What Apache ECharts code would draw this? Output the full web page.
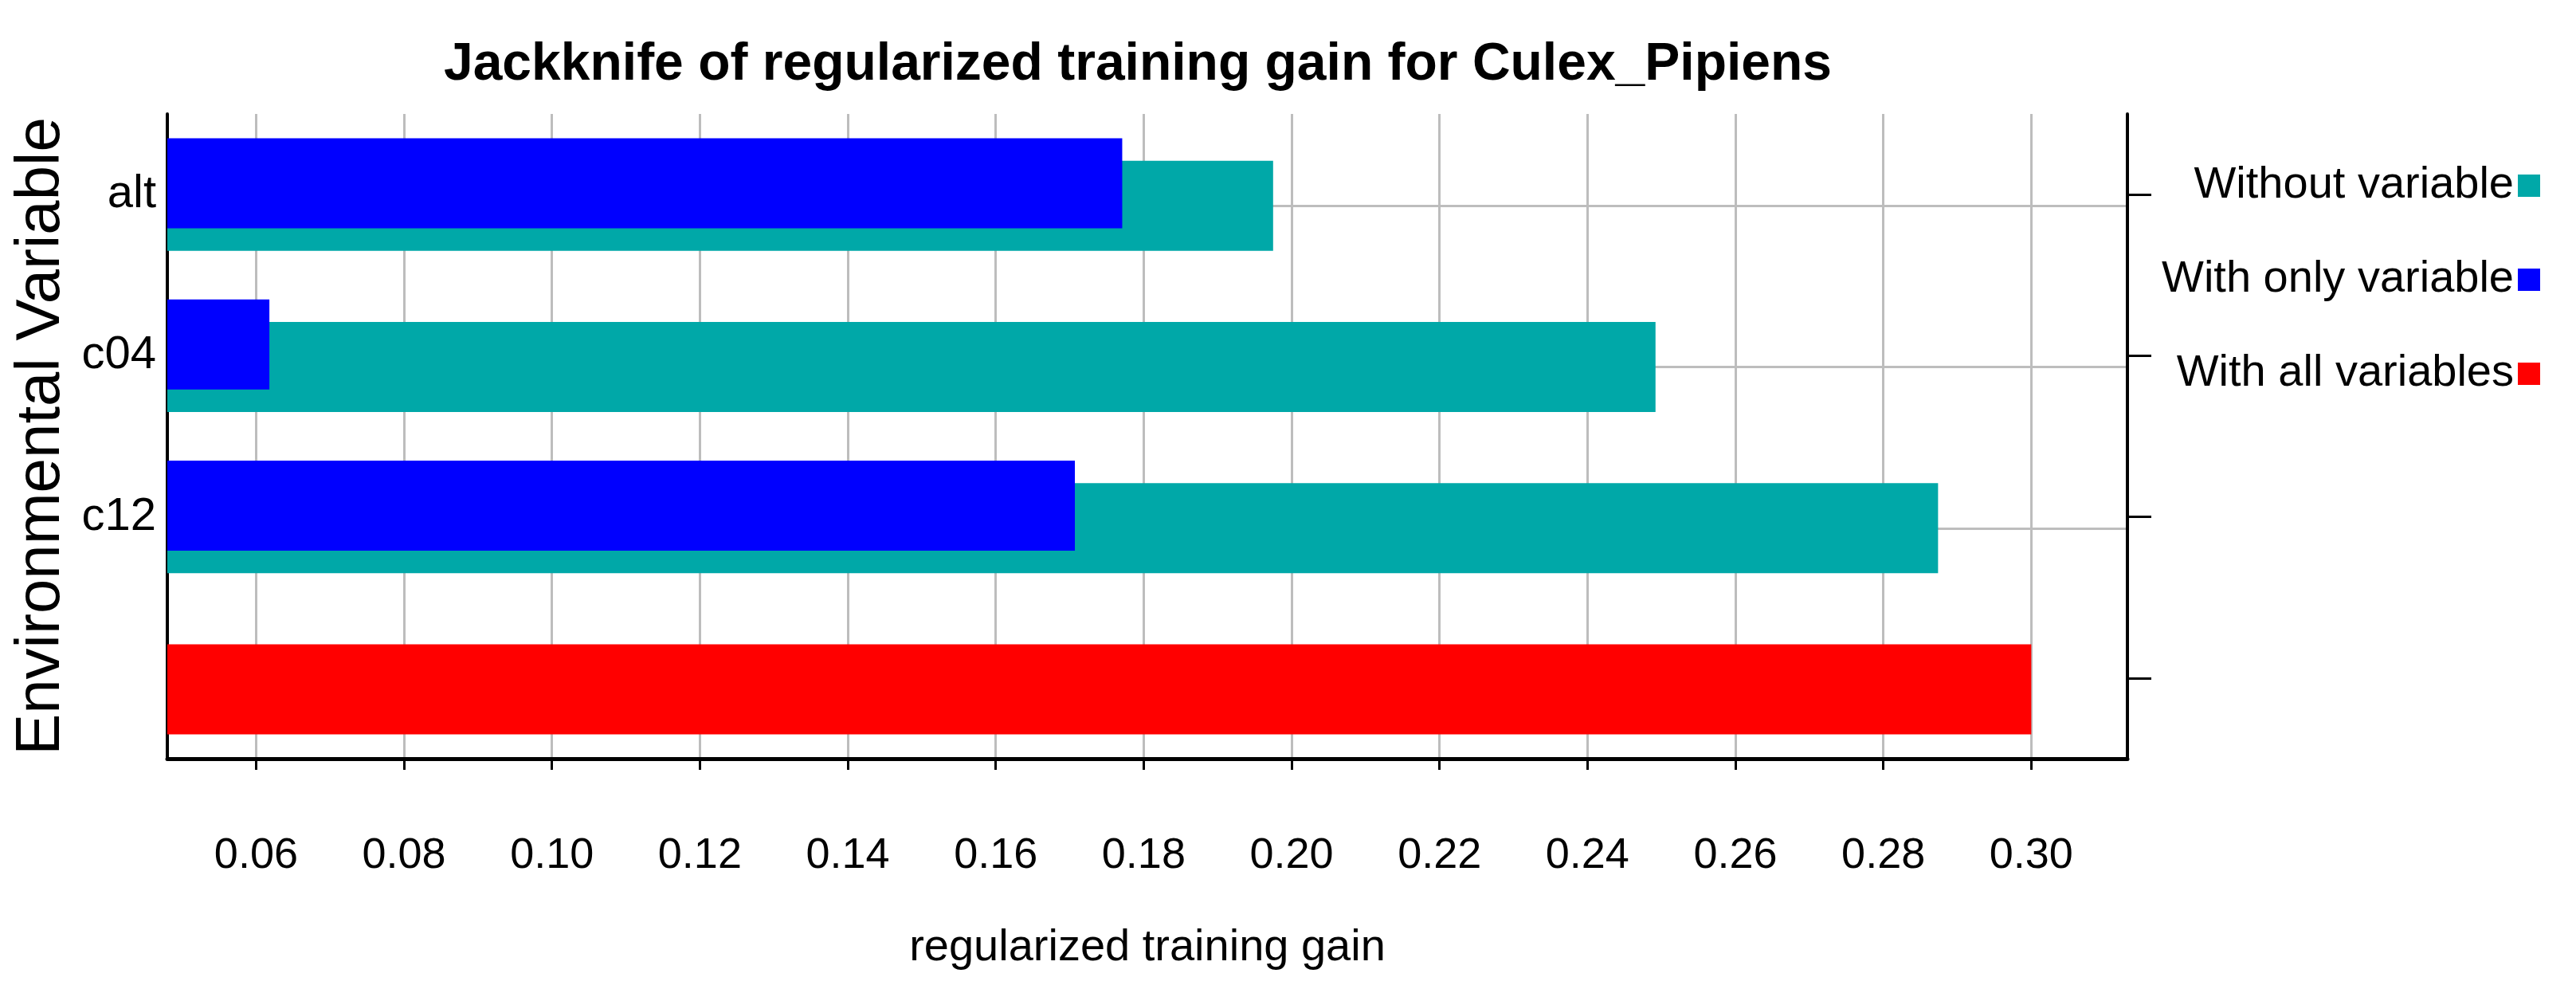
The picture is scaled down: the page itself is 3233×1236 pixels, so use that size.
<!DOCTYPE html>
<html>
<head>
<meta charset="utf-8">
<script src="https://cdn.jsdelivr.net/npm/echarts@6/dist/echarts.min.js"></script>
<style>html,body{margin:0;padding:0;background:#fff}#main{width:3233px;height:1236px}</style>
</head>
<body>
<div id="main"></div>
<script>
var categories = ['alt', 'c04', 'c12', ''];
var withoutVar = [0.1975, 0.2492, 0.2874];
var withOnly = [0.1771, 0.0618, 0.1707];
var allVars = 0.300;
var xTicks = [0.06, 0.08, 0.10, 0.12, 0.14, 0.16, 0.18, 0.20, 0.22, 0.24, 0.26, 0.28, 0.30];

var narrow = '"Liberation Sans Narrow", "Liberation Sans", Arial, sans-serif';
var myChart = echarts.init(document.getElementById('main'));

var tealData = withoutVar.slice();
tealData.push({value: allVars, itemStyle: {color: '#ff0000'}});
var blueData = withOnly.slice();
blueData.push('-');

myChart.setOption({
	backgroundColor: '#fff',
	animation: false,
	title: {
		text: 'Jackknife of regularized training gain for Culex_Pipiens',
		left: 1423, top: 44, textAlign: 'center',
		textStyle: {fontFamily: 'Liberation Sans', fontWeight: 'bold', fontSize: 66, color: '#000'}
	},
	legend: {
		right: 40, top: 200, orient: 'vertical', align: 'right',
		itemWidth: 28, itemHeight: 28, itemGap: 62, icon: 'rect',
		textStyle: {fontFamily: narrow, fontSize: 56, color: '#000'},
		data: ['Without variable', 'With only variable', 'With all variables']
	},
	grid: {left: 210, right: 563, top: 143, bottom: 284},
	xAxis: {
		type: 'value', min: 0.048, max: 0.313,
		name: 'regularized training gain', nameLocation: 'middle', nameGap: 210,
		nameTextStyle: {fontFamily: narrow, fontSize: 56, color: '#000'},
		axisLine: {show: true, lineStyle: {color: '#000', width: 5}},
		axisTick: {show: true, customValues: xTicks, length: 14, lineStyle: {color: '#000', width: 3}},
		axisLabel: {customValues: xTicks, margin: 95, fontFamily: narrow, fontSize: 54, color: '#000',
			formatter: function (v) { return v.toFixed(2); }},
		splitLine: {show: true, lineStyle: {color: '#bdbdbd', width: 3}}
	},
	yAxis: [{
		type: 'category', data: categories, inverse: true,
		name: 'Environmental Variable', nameLocation: 'middle', nameGap: 115,
		nameTextStyle: {fontFamily: 'Liberation Sans', fontSize: 78, color: '#000'},
		axisLine: {lineStyle: {color: '#000', width: 4}},
		axisTick: {show: false},
		axisLabel: {fontFamily: narrow, fontSize: 58, color: '#000', margin: 14}
	}, {
		type: 'category', data: categories, inverse: true, position: 'right',
		axisLine: {show: true, lineStyle: {color: '#000', width: 4}},
		axisTick: {show: true, alignWithLabel: true, length: 30, lineStyle: {color: '#000', width: 3}},
		axisLabel: {show: false}
	}],
	series: [
		{
			name: 'With only variable', type: 'bar', data: blueData,
			barWidth: 113, barGap: '-75%', z: 3,
			itemStyle: {color: '#0000ff'}
		},
		{
			name: 'Without variable', type: 'bar', data: tealData,
			barWidth: 113, barGap: '-75%', z: 2,
			itemStyle: {color: '#00a8a8'},
			markLine: {
				silent: true, symbol: 'none', label: {show: false}, z: 0,
				lineStyle: {color: '#bdbdbd', type: 'solid', width: 3},
				data: [{yAxis: 'alt'}, {yAxis: 'c04'}, {yAxis: 'c12'}]
			}
		},
		{
			name: 'With all variables', type: 'line', data: [],
			itemStyle: {color: '#ff0000'}
		}
	]
});
</script>
</body>
</html>
